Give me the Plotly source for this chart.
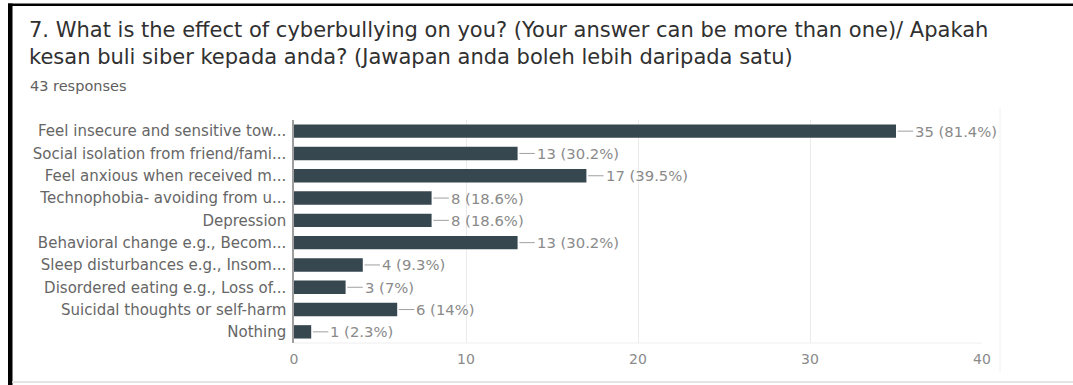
import plotly.graph_objects as go

# Survey question 7: effects of cyberbullying (multiple answers allowed)
categories = [
    "Feel insecure and sensitive tow...",
    "Social isolation from friend/fami...",
    "Feel anxious when received m...",
    "Technophobia- avoiding from u...",
    "Depression",
    "Behavioral change e.g., Becom...",
    "Sleep disturbances e.g., Insom...",
    "Disordered eating e.g., Loss of...",
    "Suicidal thoughts or self-harm",
    "Nothing",
]
counts = [35, 13, 17, 8, 8, 13, 4, 3, 6, 1]
total_responses = 43
x_ticks = [0, 10, 20, 30, 40]

title_lines = [
    "7. What is the effect of cyberbullying on you? (Your answer can be more than one)/ Apakah",
    "kesan buli siber kepada anda? (Jawapan anda boleh lebih daripada satu)",
]
subtitle = f"{total_responses} responses"

W, H = 1073, 385
L, R, T, B = 294, 982, 120, 343  # plot area in pixels
FONT = "DejaVu Sans"


def px_x(px):
    return (px - L) / (R - L)


def px_y(py):
    return (B - py) / (B - T)


labels = [f"{c} ({round(c / total_responses * 100, 1):g}%)" for c in counts]

fig = go.Figure(
    go.Bar(
        x=counts,
        y=categories,
        orientation="h",
        marker=dict(color="#37474f", line=dict(width=0)),
        width=0.6,
        hoverinfo="skip",
    )
)

shapes = []
annotations = []

# leader line + value label for each bar
for cat, c, lab in zip(categories, counts, labels):
    shapes.append(dict(
        type="line", xref="x", yref="y",
        x0=c + 0.1, x1=c + 1.0, y0=cat, y1=cat,
        line=dict(color="#a0a0a0", width=1),
    ))
    annotations.append(dict(
        x=c + 1.0, y=cat, xref="x", yref="y",
        text=lab, showarrow=False, xanchor="left", yanchor="middle",
        xshift=0,
        font=dict(family=FONT, size=14.8, color="#8a8a8a"),
    ))

# title block
annotations.append(dict(
    x=px_x(27), y=px_y(16), xref="paper", yref="paper",
    text="<br>".join(title_lines), showarrow=False,
    xanchor="left", yanchor="top", align="left",
    font=dict(family=FONT, size=21, color="#303030"),
))
annotations.append(dict(
    x=px_x(28), y=px_y(86), xref="paper", yref="paper",
    text=subtitle, showarrow=False, xanchor="left", yanchor="middle",
    font=dict(family=FONT, size=14.5, color="#606060"),
))

# outer frame: thick black top/left edges, light bottom rule, faint panel edge
shapes += [
    dict(type="rect", xref="paper", yref="paper", layer="above",
         x0=px_x(8), x1=px_x(W + 5), y0=px_y(6), y1=px_y(3.5),
         fillcolor="#000000", line=dict(width=0)),
    dict(type="rect", xref="paper", yref="paper", layer="above",
         x0=px_x(8), x1=px_x(12.5), y0=px_y(H + 5), y1=px_y(3.5),
         fillcolor="#000000", line=dict(width=0)),
    dict(type="line", xref="paper", yref="paper",
         x0=px_x(12), x1=px_x(W), y0=px_y(382), y1=px_y(382),
         line=dict(color="#dddddd", width=1.5)),
    dict(type="line", xref="paper", yref="paper",
         x0=px_x(1000), x1=px_x(1000), y0=px_y(372), y1=px_y(108),
         line=dict(color="#f0f0f0", width=1)),
    # baseline along the bottom of the plot area
    dict(type="line", xref="paper", yref="paper",
         x0=0, x1=1, y0=0, y1=0,
         line=dict(color="#eeeeee", width=1)),
]

fig.update_layout(
    width=W, height=H,
    margin=dict(l=L, r=W - R, t=T, b=H - B, pad=0),
    paper_bgcolor="white", plot_bgcolor="white",
    showlegend=False,
    bargap=0.4,
    shapes=shapes,
    annotations=annotations,
    xaxis=dict(
        range=[0, 40], tickvals=x_ticks, ticktext=[str(v) for v in x_ticks],
        showgrid=True, gridcolor="#ebebeb", gridwidth=1,
        zeroline=False, showline=False, ticks="",
        ticklabelstandoff=6,
        tickfont=dict(family=FONT, size=14, color="#8a8a8a"),
        fixedrange=True,
    ),
    yaxis=dict(
        categoryorder="array", categoryarray=categories, autorange="reversed",
        showgrid=False, zeroline=False,
        showline=True, linecolor="#9e9e9e", linewidth=1.5,
        ticks="", ticklabelstandoff=3,
        tickfont=dict(family=FONT, size=15, color="#666666"),
        fixedrange=True,
    ),
)

fig.write_html("out.html", config={"displayModeBar": False})
